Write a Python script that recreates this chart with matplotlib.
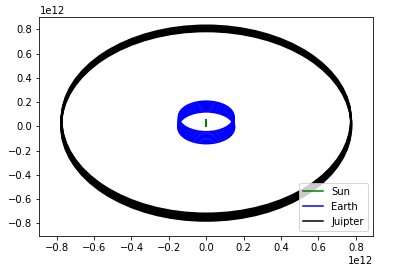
import matplotlib
matplotlib.use('Agg')
import matplotlib.pyplot as plt
from matplotlib.patches import Ellipse
from matplotlib.lines import Line2D

# orbit traces (units of 1e12 m)
sun_x = [0.0, 0.0]
sun_y = [0.006e12, 0.054e12]

# earth: ring centres drift upwards, semi axes per ring
earth_cy = [-0.012e12, -0.003e12, 0.006e12, 0.015e12, 0.024e12, 0.034e12,
            0.043e12, 0.052e12, 0.062e12, 0.071e12, 0.081e12]
earth_ax = [0.151e12, 0.151e12, 0.150e12, 0.150e12, 0.150e12, 0.149e12,
            0.149e12, 0.149e12, 0.148e12, 0.148e12, 0.148e12]
earth_ay = [0.131e12, 0.131e12, 0.130e12, 0.130e12, 0.129e12, 0.129e12,
            0.128e12, 0.128e12, 0.127e12, 0.127e12, 0.126e12]

# jupiter
jup_cy = [0.002e12, 0.011e12, 0.020e12, 0.029e12, 0.038e12, 0.047e12, 0.056e12]
jup_ax = [0.776e12, 0.776e12, 0.775e12, 0.775e12, 0.775e12, 0.774e12, 0.774e12]
jup_ay = [0.781e12, 0.780e12, 0.779e12, 0.778e12, 0.777e12, 0.776e12, 0.775e12]

fig = plt.figure(figsize=(396 / 72, 277 / 72), dpi=72)
ax = fig.add_axes([0.0997, 0.1491, 0.8422, 0.7895])

ax.plot(sun_x, sun_y, color='green', lw=2)

for cy, a, b in zip(earth_cy, earth_ax, earth_ay):
    ax.add_patch(Ellipse((0, cy), 2 * a, 2 * b, fill=False, edgecolor='blue', lw=1.6))

for cy, a, b in zip(jup_cy, jup_ax, jup_ay):
    ax.add_patch(Ellipse((0, cy), 2 * a, 2 * b, fill=False, edgecolor='black', lw=2.0))

ax.set_xlim(-0.892e12, 0.892e12)
ax.set_ylim(-0.902e12, 0.901e12)
ax.set_xticks([-0.8e12, -0.6e12, -0.4e12, -0.2e12, 0, 0.2e12, 0.4e12, 0.6e12, 0.8e12])
ax.set_yticks([-0.8e12, -0.6e12, -0.4e12, -0.2e12, 0, 0.2e12, 0.4e12, 0.6e12, 0.8e12])
ax.ticklabel_format(axis='both', style='sci', scilimits=(12, 12))

handles = [Line2D([], [], color='green', lw=1.5),
           Line2D([], [], color='blue', lw=1.5),
           Line2D([], [], color='black', lw=1.5)]
ax.legend(handles, ['Sun', 'Earth', 'Juipter'], loc='lower right')

fig.savefig('out.png', dpi=72)
